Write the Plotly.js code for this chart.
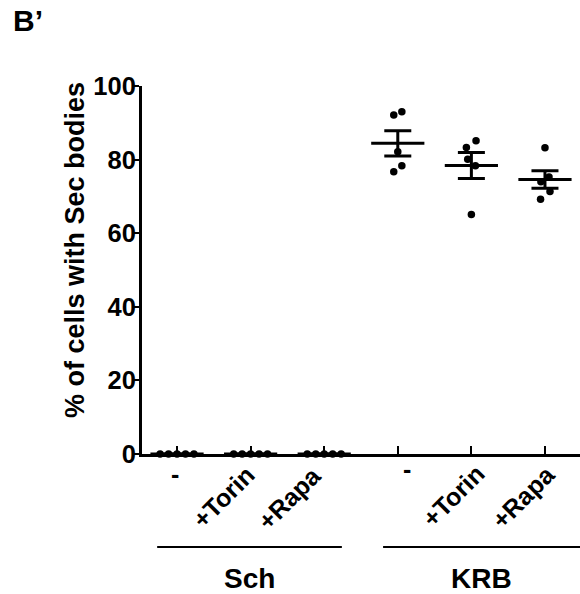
<!DOCTYPE html>
<html>
<head>
<meta charset="utf-8">
<script src="https://cdn.plot.ly/plotly-3.0.1.min.js"></script>
<style>html,body{margin:0;padding:0;background:#fff}#chart{width:580px;height:594px}</style>
</head>
<body>
<div id="chart"></div>
<script>
// ---- data ----
const categories = ['-', '+Torin', '+Rapa', '-', '+Torin', '+Rapa'];
const groupNames = ['Sch', 'KRB'];
const sch_minus = [0, 0, 0, 0, 0];
const sch_torin = [0, 0, 0, 0, 0];
const sch_rapa  = [0, 0, 0, 0, 0];
const krb_minus = [93.0, 92.1, 82.1, 78.3, 76.7];
const krb_torin = [85.1, 83.3, 80.1, 78.3, 65.1];
const krb_rapa  = [83.2, 75.3, 74.0, 71.3, 69.2];
const yTicks = [0, 20, 40, 60, 80, 100];

// ---- style / layout constants ----
const series = [sch_minus, sch_torin, sch_rapa, krb_minus, krb_torin, krb_rapa];
const JITTER = [
  [-0.23, -0.115, 0, 0.115, 0.23],
  [-0.23, -0.115, 0, 0.115, 0.23],
  [-0.23, -0.115, 0, 0.115, 0.23],
  [0.055, -0.055, 0, 0.055, -0.055],
  [0.063, -0.068, -0.05, 0.055, 0],
  [0, 0.055, -0.055, 0.068, -0.06]
];
const LABEL_DX = [-2, 12, 5, 9, 21, 18];
const LABEL_DY = [-20, -4, -4, -15, -3, -3];
const BRACKETS = [[-0.27, 2.24], [2.80, 5.48]];
const FONT = 'Liberation Sans, Arial, Helvetica, sans-serif';

function mean(a){ return a.reduce((s,v)=>s+v,0)/a.length; }
function sem(a){ const m=mean(a); const v=a.reduce((s,x)=>s+(x-m)*(x-m),0)/(a.length-1); return Math.sqrt(v/a.length); }

const px = [], py = [];
series.forEach((vals, i) => vals.forEach((v, k) => { px.push(i + JITTER[i][k]); py.push(v); }));

const catIdx = categories.map((c, i) => i);
const means = series.map(mean);
const sems = series.map(sem);

const traces = [
  {
    type: 'scatter', mode: 'markers', x: px, y: py, cliponaxis: false,
    marker: {color: '#000', size: 7.5}, hoverinfo: 'y', showlegend: false
  },
  {
    type: 'scatter', mode: 'markers', x: catIdx, y: means, cliponaxis: false,
    marker: {symbol: 'line-ew', size: 38, color: '#000', line: {color: '#000', width: 3}},
    error_y: {type: 'data', array: sems, visible: true, color: '#000', thickness: 3, width: 13.5},
    showlegend: false
  }
];

const W = 580, H = 594, L = 142, R = 0, T = 86, B = 140;
const pw = W - L - R, ph = H - T - B;

const annotations = [];
categories.forEach((c, i) => {
  if (c === '-') {
    annotations.push({x: i, y: 0, xref: 'x', yref: 'y', text: c, showarrow: false,
      xanchor: 'center', yanchor: 'middle', xshift: LABEL_DX[i], yshift: LABEL_DY[i],
      font: {family: FONT, size: 25, weight: 'bold', color: '#000'}});
  } else {
    annotations.push({x: i, y: 0, xref: 'x', yref: 'y', text: c, showarrow: false,
      textangle: -45, xanchor: 'right', yanchor: 'top', xshift: LABEL_DX[i], yshift: LABEL_DY[i],
      font: {family: FONT, size: 25, weight: 'bold', color: '#000'}});
  }
});
const shapes = [];
groupNames.forEach((g, j) => {
  const b = BRACKETS[j];
  shapes.push({type: 'line', xref: 'x', yref: 'paper', x0: b[0], x1: b[1], y0: -0.2527, y1: -0.2527,
    line: {color: '#000', width: 2}});
  annotations.push({x: (b[0] + b[1]) / 2, y: -0.337, xref: 'x', yref: 'paper', text: g, showarrow: false,
    xanchor: 'center', yanchor: 'middle', font: {family: FONT, size: 28, weight: 'bold', color: '#000'}});
});
annotations.push({x: (11 - L) / pw, y: (H - B - 2) / ph, xref: 'paper', yref: 'paper', text: 'B’', showarrow: false,
  xanchor: 'left', yanchor: 'top', font: {family: FONT, size: 30, weight: 'bold', color: '#000'}});
annotations.push({x: (75 - L) / pw, y: (H - B - 250) / ph, xref: 'paper', yref: 'paper', text: '% of cells with Sec bodies',
  showarrow: false, textangle: -90, xanchor: 'center', yanchor: 'middle',
  font: {family: FONT, size: 27, weight: 'bold', color: '#000'}});

const layout = {
  width: W, height: H,
  margin: {l: L, r: R, t: T, b: B, pad: 0},
  paper_bgcolor: '#fff', plot_bgcolor: '#fff',
  showlegend: false,
  xaxis: {
    range: [-0.476, 5.476], showgrid: false, zeroline: false,
    showline: true, linecolor: '#000', linewidth: 3,
    tickvals: catIdx, ticks: 'inside', ticklen: 8, tickwidth: 2, tickcolor: '#000',
    showticklabels: false, fixedrange: true
  },
  yaxis: {
    range: [0, 100], showgrid: false, zeroline: false,
    showline: true, linecolor: '#000', linewidth: 3,
    tickvals: yTicks, ticktext: yTicks.map(String),
    ticks: 'outside', ticklen: 6, tickwidth: 2, tickcolor: '#000',
    ticklabelstandoff: -8,
    tickfont: {family: FONT, size: 25.5, weight: 'bold', color: '#000'},
    fixedrange: true
  },
  shapes: shapes,
  annotations: annotations
};

Plotly.newPlot('chart', traces, layout, {displayModeBar: false, staticPlot: true});
</script>
</body>
</html>
